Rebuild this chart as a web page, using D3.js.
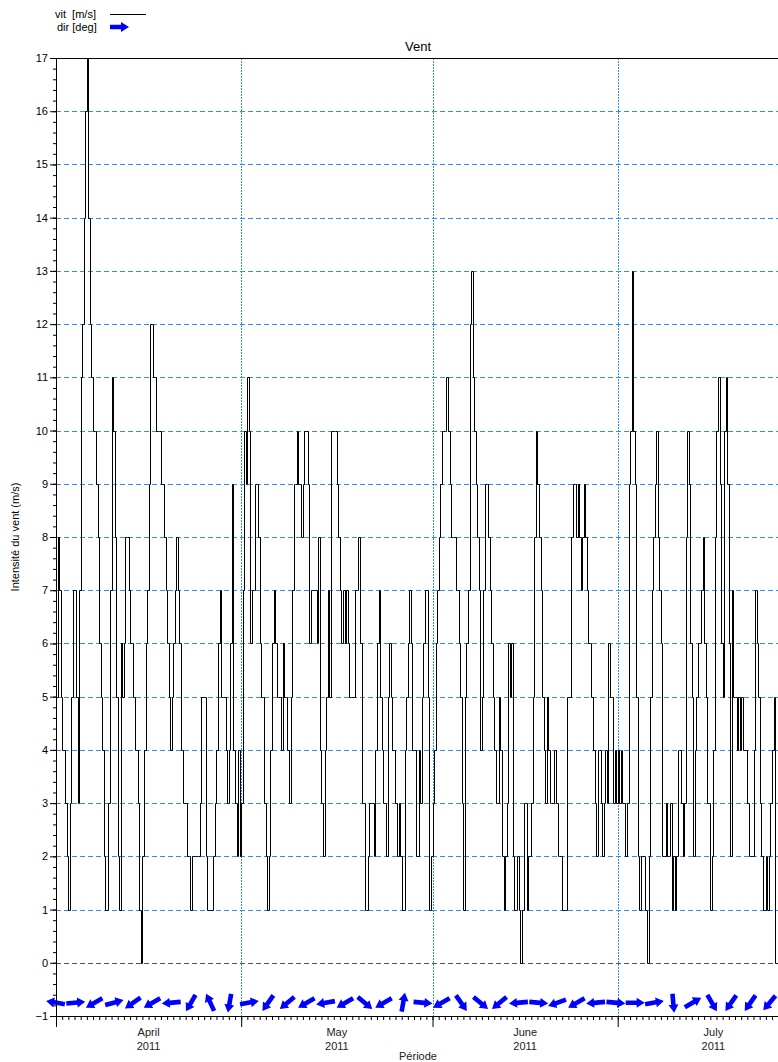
<!DOCTYPE html>
<html>
<head>
<meta charset="UTF-8">
<title>Vent</title>
<script src="https://cdn.jsdelivr.net/npm/d3@7"></script>
<style>
    body { margin: 0; background: #fff; }
    svg { font-family: "Liberation Sans", Arial, sans-serif; }
</style>
</head>
<body>
<div id="chart"></div>
<script>
// wind speed, one value every 6 hours from 1 April 2011
const startDate = new Date(2011, 3, 1);
const endDate = new Date(2011, 6, 27, 7);
const stepHours = 6;

const speedApr = [
    5,8,7,5, 4,4,3,2, 1,3,5,7, 7,5,3,7, 11,12,14,16,
    17,14,12,11, 10,10,9,8, 6,5,4,2, 1,1,3,7, 11,10,8,5,
    2,1,6,5, 6,8,8,7, 6,6,5,4, 4,3,1,0, 2,4,6,7,
    9,12,12,11, 11,10,10,10, 9,9,8,7, 6,5,4,5, 6,7,8,7,
    6,4,3,3, 3,2,2,1, 2,2,2,2, 2,3,5,5, 5,2,1,1,
    1,1,2,3, 4,6,7,5, 5,5,4,3, 4,6,9,4, 3,2,4,2
];
const speedMay = [
    3,7,10,9, 11,10,6,7, 7,9,9,8, 6,5,5,3, 2,1,2,4,
    6,7,6,5, 5,5,4,6, 5,5,4,3, 5,7,9,9, 10,9,9,8,
    9,10,10,9, 6,7,7,7, 7,6,8,4, 3,2,4,5, 7,5,10,10,
    10,10,9,8, 7,6,7,6, 7,6,5,5, 5,5,7,7, 8,6,3,3,
    1,1,2,3, 3,3,2,4, 6,7,5,4, 3,3,2,5, 6,5,4,4,
    3,2,3,2, 1,1,4,5, 6,7,6,4, 4,2,2,4, 3,5,6,7,
    7,5,1,2
];
const speedJun = [
    3,4,6,7, 8,9,10,10, 10,11,10,9, 8,8,8,7, 7,6,5,3,
    1,5,6,7, 12,13,11,10, 9,8,7,4, 5,7,9,9, 8,7,6,5,
    4,3,3,5, 4,2,1,2, 3,6,5,6, 2,1,1,2, 1,0,1,3,
    3,1,2,2, 3,5,8,10, 9,8,7,5, 4,3,5,4, 3,3,3,4,
    3,2,2,2, 1,1,1,5, 5,5,8,9, 9,8,9,8, 7,8,9,8,
    7,6,6,5, 4,3,2,4, 4,3,2,3, 4,3,6,5, 5,3,4,3
];
const speedJul = [
    4,3,4,3, 3,2,3,9, 10,13,10,9, 5,2,1,2, 2,2,1,0,
    2,5,7,8, 9,10,8,7, 6,2,2,3, 2,2,3,1, 2,1,2,4,
    4,3,2,3, 8,10,9,6, 5,2,4,5, 6,6,7,8, 6,5,3,3,
    1,2,4,8, 10,11,9,6, 5,10,11,9, 6,2,7,5, 5,4,5,4,
    5,4,4,4, 3,2,2,2, 4,7,6,5, 3,2,1,1, 2,1,2,3,
    4,5,0,0
];

// wind direction (deg, direction the arrow points), one every 75 hours
const dirStepHours = 75;
const dirValues = [
    280, 85, 240, 75, 235, 240, 265, 210, 335, 190,
    80, 215, 230, 240, 260, 240, 130, 240, 10, 95,
    240, 145, 130, 230, 265, 95, 250, 240, 265, 95,
    90, 80, 175, 60, 150, 215, 215, 220
];
const dirLevel = -0.75;

const yTicks = [-1,0,1,2,3,4,5,6,7,8,9,10,11,12,13,14,15,16,17];
const monthLabels = ["April", "May", "June", "July"];
const yearLabel = "2011";

const W = 778, H = 1062;
const plotL = 56, plotR = 780, plotT = 58, plotB = 1016;

const svg = d3.select("#chart").append("svg")
    .attr("width", W)
    .attr("height", H);

const x = d3.scaleTime().domain([startDate, endDate]).range([plotL, plotR]);
const y = d3.scaleLinear().domain([-1, 17]).range([plotB, plotT]);

const speeds = speedApr.concat(speedMay, speedJun, speedJul);
const series = speeds.map((v, i) => ({
    t: d3.timeHour.offset(startDate, i * stepHours),
    v: v
}));
const dirs = dirValues.map((d, i) => ({
    t: d3.timeHour.offset(startDate, i * dirStepHours),
    d: d
}));

// grid
const grid = svg.append("g");
grid.selectAll("line.h")
    .data(yTicks.filter(d => d > -1 && d < 17))
    .enter().append("line")
    .attr("x1", plotL).attr("x2", plotR)
    .attr("y1", d => Math.round(y(d)) + 0.5)
    .attr("y2", d => Math.round(y(d)) + 0.5)
    .attr("stroke", d => d === 0 ? "#555" : "#2f8ff0")
    .attr("stroke-width", 1)
    .attr("stroke-dasharray", "5,3");

grid.selectAll("line.v")
    .data(d3.timeMonth.range(d3.timeMonth.offset(startDate, 1), endDate))
    .enter().append("line")
    .attr("x1", d => Math.round(x(d)) + 0.5)
    .attr("x2", d => Math.round(x(d)) + 0.5)
    .attr("y1", plotT).attr("y2", plotB)
    .attr("stroke", "#2f8ff0")
    .attr("stroke-dasharray", "2,1");

// frame top
svg.append("line")
    .attr("x1", plotL).attr("x2", plotR)
    .attr("y1", plotT + 0.5).attr("y2", plotT + 0.5)
    .attr("stroke", "#000");

// speed line
const line = d3.line()
    .x(d => Math.round(x(d.t)) + 0.5)
    .y(d => Math.round(y(d.v)) + 0.5)
    .curve(d3.curveStepAfter);

svg.append("path")
    .datum(series)
    .attr("fill", "none")
    .attr("stroke", "#000")
    .attr("stroke-width", 1)
    .attr("d", line);

// direction arrows
const arrowPath = "M-9,-2.3L2,-2.3L2,-5L10,0L2,5L2,2.3L-9,2.3Z";
svg.append("g").selectAll("path")
    .data(dirs)
    .enter().append("path")
    .attr("d", arrowPath)
    .attr("fill", "#0000ff")
    .attr("transform", d => "translate(" + x(d.t) + "," + y(dirLevel) + ") rotate(" + (d.d - 90) + ")");

// y axis
svg.append("g")
    .attr("transform", "translate(" + plotL + ",0)")
    .call(d3.axisLeft(y).tickValues(d3.range(-1, 17.01, 0.2)).tickSize(3).tickFormat(""))
    .call(g => g.select(".domain").remove());

const yAxis = svg.append("g")
    .attr("transform", "translate(" + plotL + ",0)")
    .call(d3.axisLeft(y).tickValues(yTicks).tickSize(6).tickFormat(d3.format("d")));
yAxis.selectAll("text").attr("font-size", 11).attr("fill", "#000").attr("x", -8);
yAxis.select(".domain").attr("stroke", "#000");

// x axis
svg.append("g")
    .attr("transform", "translate(0," + plotB + ")")
    .call(d3.axisBottom(x).ticks(d3.timeDay.every(1)).tickSize(4).tickFormat(""))
    .call(g => g.select(".domain").attr("stroke", "#000"));

svg.append("g")
    .attr("transform", "translate(0," + plotB + ")")
    .call(d3.axisBottom(x).tickValues([startDate].concat(d3.timeMonth.range(d3.timeMonth.offset(startDate, 1), endDate))).tickSize(11).tickFormat(""))
    .call(g => g.select(".domain").remove());

const months = d3.timeMonth.range(startDate, endDate);
const midMonth = d => x(new Date(d.getTime() + (d3.timeMonth.offset(d, 1) - d) / 2));
const monthText = svg.append("g").selectAll("text")
    .data(months)
    .enter().append("text")
    .attr("text-anchor", "middle")
    .attr("font-size", 11)
    .attr("fill", "#222");
monthText.append("tspan").attr("x", midMonth).attr("y", 1036).text((d, i) => monthLabels[i]);
monthText.append("tspan").attr("x", midMonth).attr("y", 1050).text(yearLabel);

// titles
svg.append("text")
    .attr("x", (plotL + plotR) / 2).attr("y", 51)
    .attr("text-anchor", "middle")
    .attr("font-size", 13)
    .text("Vent");

svg.append("text")
    .attr("x", (plotL + plotR) / 2).attr("y", 1060)
    .attr("text-anchor", "middle")
    .attr("font-size", 11)
    .attr("fill", "#222")
    .text("Période");

svg.append("text")
    .attr("transform", "translate(19," + ((plotT + plotB) / 2) + ") rotate(-90)")
    .attr("text-anchor", "middle")
    .attr("font-size", 11)
    .text("Intensité du vent (m/s)");

// legend
const legend = svg.append("g");
legend.append("text").attr("x", 55).attr("y", 18).attr("font-size", 11)
    .style("white-space", "pre").text("vit  [m/s]");
legend.append("line").attr("x1", 110).attr("x2", 146).attr("y1", 14.5).attr("y2", 14.5).attr("stroke", "#000");
legend.append("text").attr("x", 57).attr("y", 31).attr("font-size", 11).text("dir [deg]");
legend.append("path").attr("d", arrowPath).attr("fill", "#0000ff")
    .attr("transform", "translate(119,27)");
</script>
</body>
</html>
